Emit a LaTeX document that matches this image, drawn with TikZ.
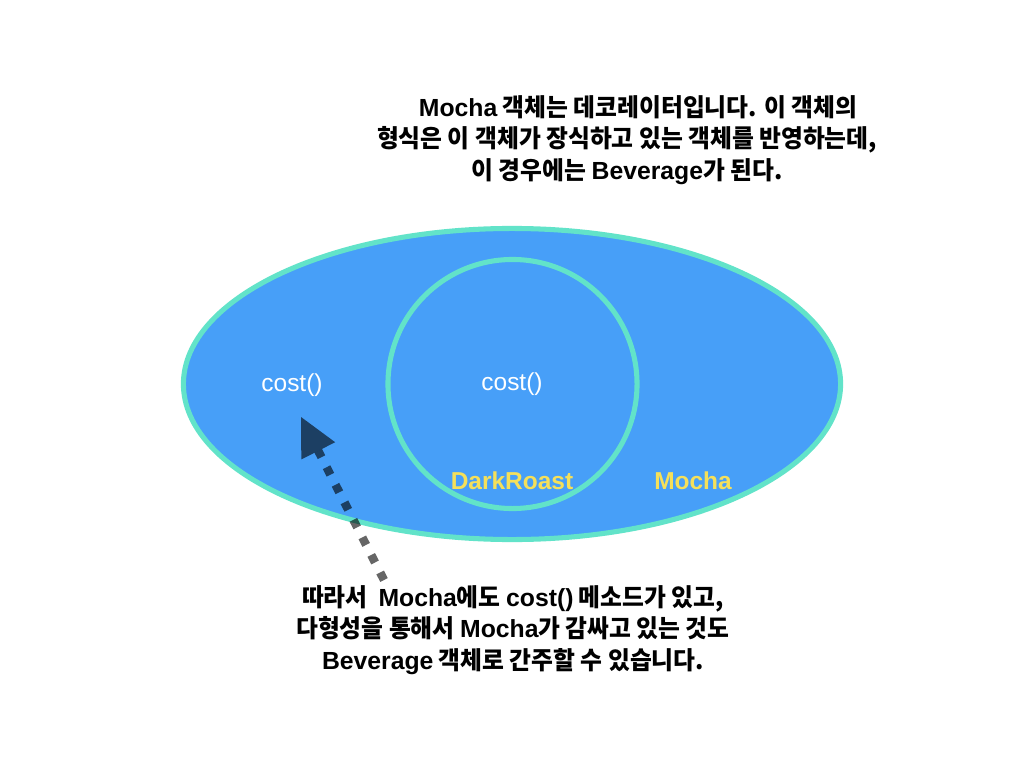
\documentclass[tikz,border=0pt]{standalone}
\usepackage{fontspec}
\setmainfont{Noto Sans CJK KR}[FakeStretch=0.96]
\newfontfamily\latfont{Liberation Sans}
\usetikzlibrary{arrows.meta,shapes.geometric}
\newcommand\lat[1]{{\latfont #1}}
\definecolor{oceanblue}{HTML}{479FF8}
\definecolor{rimcyan}{HTML}{62E3C9}
\definecolor{tagyellow}{HTML}{F5E05A}
\tikzset{
  rim/.style={draw=rimcyan, line width=3.6pt, inner sep=0pt},
  caption/.style={align=center, font=\bfseries\fontsize{17.6}{22.6}\selectfont},
  method/.style={text=white, font=\latfont\fontsize{17.4}{21}\selectfont},
  tag/.style={text=tagyellow, font=\latfont\bfseries\fontsize{17.4}{21}\selectfont},
  pointer/.style={draw=black, opacity=0.6, line width=6pt, dash pattern=on 6pt off 8pt,
    -{Triangle[length=27pt,width=27pt,line width=0pt]}}
}
\begin{document}
\begin{tikzpicture}[x=0.025cm, y=-0.025cm]
  \useasboundingbox (0,0) rectangle (1024,768);
  % decorator and the wrapped object
  \node (mocha) [rim, ellipse, fill=oceanblue, minimum width=16.425cm, minimum height=7.775cm] at (512,384) {};
  \node (darkroast) [rim, circle, minimum size=6.225cm] at (512.5,384) {};
  % labels
  \node[method] (costL) at (292,385) {cost()};
  \node[method] (costR) at (512,384) {cost()};
  \node[tag] (darkroastTag) at (512,481) {DarkRoast};
  \node[tag] (mochaTag) at (693,481) {Mocha};
  % notes
  \node[caption] (topNote) at (627,140) {\hspace*{0.55cm}\lat{Mocha} 객체는 데코레이터입니다. 이 객체의\\형식은 이 객체가 장식하고 있는 객체를 반영하는데,\\이 경우에는 \lat{Beverage}가 된다.};
  \node[caption] (bottomNote) at (513,630) {따라서\ \ \lat{Mocha}에도 \lat{cost()} 메소드가 있고,\\다형성을 통해서 \lat{Mocha}가 감싸고 있는 것도\\\lat{Beverage} 객체로 간주할 수 있습니다.};
  % polymorphism pointer
  \coordinate (tail) at (384,580);
  \coordinate (tip) at (301,417);
  \draw[pointer] (tail) -- (tip);
\end{tikzpicture}
\end{document}
